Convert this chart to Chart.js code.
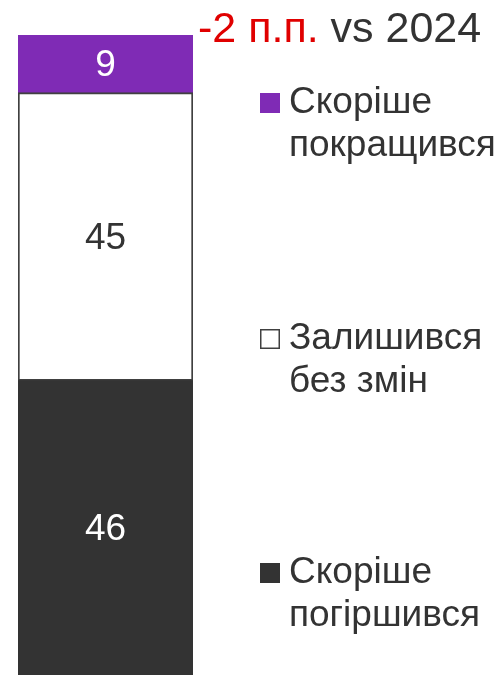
<!DOCTYPE html>
<html>
<head>
<meta charset="utf-8">
<script src="https://cdn.jsdelivr.net/npm/chart.js@4"></script>
<style>
  html, body { margin: 0; padding: 0; background: #fff; }
  canvas { display: block; }
</style>
</head>
<body>
<canvas id="barChart" width="504" height="675"></canvas>
<script>
// data (bottom to top of the stack)
var categories = [''];
var seriesNames = ['Скоріше погіршився', 'Залишився без змін', 'Скоріше покращився'];
var legendLines = [['Скоріше', 'погіршився'], ['Залишився', 'без змін'], ['Скоріше', 'покращився']];
var worse = [46];
var same = [45];
var better = [9];
var titleDelta = '-2 п.п.';
var titleRest = ' vs 2024';

var fills = ['#333333', '#ffffff', '#7f2bb5'];
var labelColors = ['#ffffff', '#333333', '#ffffff'];
var textColor = '#333333';

// labels inside the bar segments
var valueLabels = {
    id: 'valueLabels',
    afterDatasetsDraw: function (chart) {
        var c = chart.ctx;
        c.save();
        c.font = '37px "Liberation Sans", Arial, sans-serif';
        c.textAlign = 'center';
        c.textBaseline = 'middle';
        chart.data.datasets.forEach(function (ds, i) {
            var bar = chart.getDatasetMeta(i).data[0];
            c.fillStyle = labelColors[i];
            c.fillText(ds.data[0], bar.x, (bar.y + bar.base) / 2 + 2);
        });
        c.restore();
    }
};

// title and the legend on the right
var sideText = {
    id: 'sideText',
    afterDraw: function (chart) {
        var c = chart.ctx;
        c.save();
        c.textBaseline = 'alphabetic';
        c.textAlign = 'left';
        c.font = '43px "Liberation Sans", Arial, sans-serif';
        c.fillStyle = '#e00000';
        c.fillText(titleDelta, 198, 42);
        var w = c.measureText(titleDelta).width;
        c.fillStyle = textColor;
        c.fillText(titleRest, 198 + w, 42);

        var baselines = [583, 349, 113];
        c.font = '37px "Liberation Sans", Arial, sans-serif';
        legendLines.forEach(function (lines, i) {
            var b = baselines[i];
            c.fillStyle = fills[i];
            c.fillRect(260, b - 20, 20, 20);
            if (i === 1) {
                c.strokeStyle = '#404040';
                c.lineWidth = 1.5;
                c.strokeRect(260.75, b - 19.25, 18.5, 18.5);
            }
            c.fillStyle = textColor;
            lines.forEach(function (t, k) {
                c.fillText(t, 289, b + k * 43);
            });
        });
        c.restore();
    }
};

var ctx = document.getElementById('barChart').getContext('2d');
var chart = new Chart(ctx, {
    type: 'bar',
    data: {
        labels: categories,
        datasets: [{
            label: seriesNames[0],
            data: worse,
            backgroundColor: fills[0],
            borderWidth: 0
        }, {
            label: seriesNames[1],
            data: same,
            backgroundColor: fills[1],
            borderColor: '#404040',
            borderWidth: 2,
            borderSkipped: false
        }, {
            label: seriesNames[2],
            data: better,
            backgroundColor: fills[2],
            borderWidth: 0
        }]
    },
    options: {
        responsive: false,
        animation: false,
        layout: {
            padding: { top: 35, left: 18, right: 311, bottom: 0 }
        },
        datasets: {
            bar: { barPercentage: 1, categoryPercentage: 1 }
        },
        scales: {
            x: { stacked: true, display: false },
            y: { stacked: true, display: false, min: 0, max: 100 }
        },
        plugins: {
            legend: { display: false },
            tooltip: { enabled: false }
        }
    },
    plugins: [valueLabels, sideText]
});
</script>
</body>
</html>
